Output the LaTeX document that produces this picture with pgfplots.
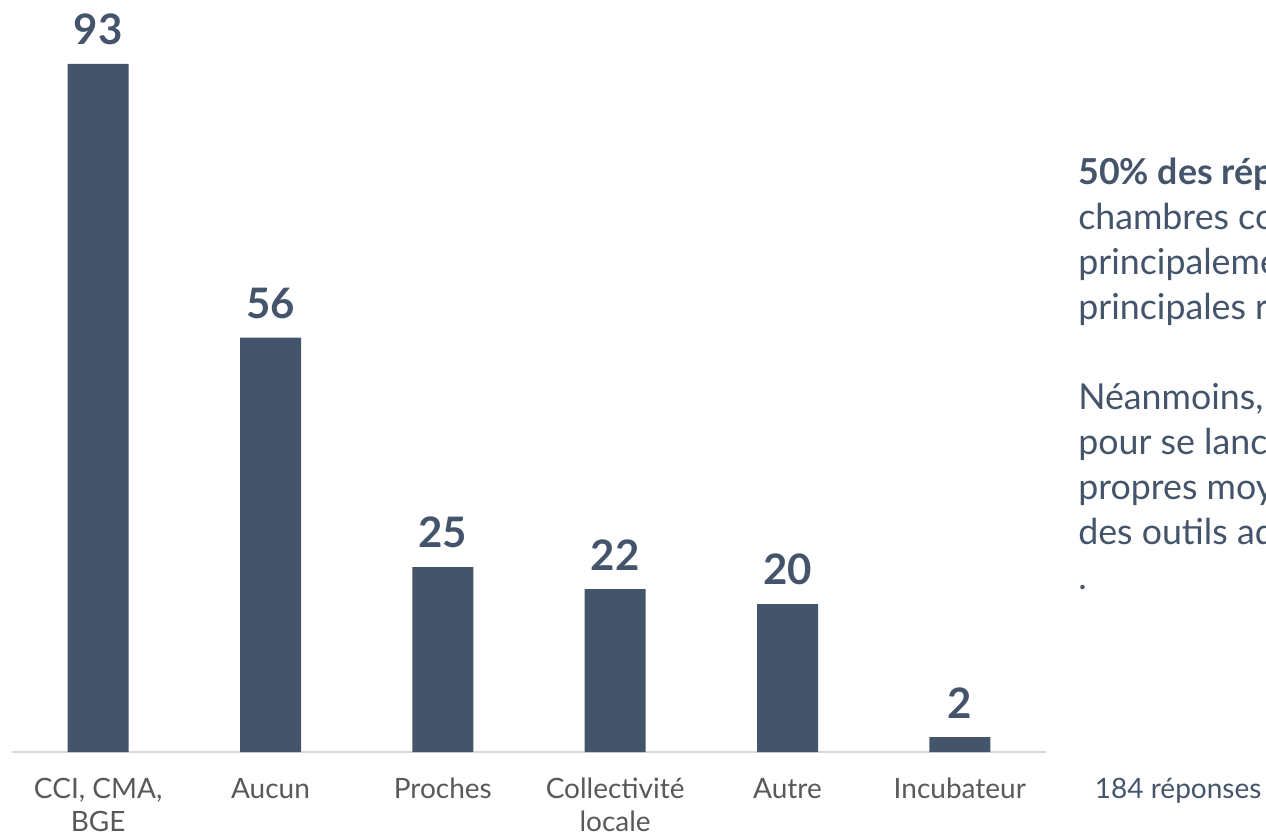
\documentclass[border=0pt]{standalone}
\usepackage{pgfplots}
\pgfplotsset{compat=1.18}
\usepackage{fontspec}
\setmainfont{Lato}
\definecolor{barblue}{HTML}{44546A}
\definecolor{ticktext}{HTML}{595959}
\definecolor{axisgray}{HTML}{D9D9D9}
\begin{document}
\begin{tikzpicture}
\begin{scope}
\clip (-9pt,-62.25pt) rectangle (940.5pt,564pt);
\begin{axis}[
  scale only axis,
  width=775.5pt, height=555pt,
  xmin=-0.5, xmax=5.5, ymin=0, ymax=100,
  axis x line*=bottom, axis y line=none,
  x axis line style={axisgray, line width=1.2pt, -},
  xtick={0,1,2,3,4,5},
  xticklabels={{CCI, CMA,\\BGE},Aucun,Proches,{Collectivité\\locale},Autre,Incubateur},
  major tick length=0pt,
  xticklabel style={align=center, font=\fontsize{21}{24.5}\selectfont, text=ticktext, yshift=-16pt},
  ytick=\empty,
  /pgf/number format/assume math mode=true,
  nodes near coords,
  every node near coord/.append style={font=\fontsize{31.5}{36}\selectfont\bfseries, text=barblue, yshift=10.5pt},
  clip=false,
]
\addplot[ybar, bar width=45.75pt, fill=barblue, draw=none] coordinates {
  (0,93) (1,56) (2,25) (3,22) (4,20) (5,2)
};
\end{axis}
\begin{scope}[every node/.style={anchor=base west, inner sep=0pt, text=barblue, font=\fontsize{26.8}{31}\selectfont}]
\node at (799.5pt,425.25pt) {\textbf{50\% des répondants} se sont tournés vers les};
\node at (799.5pt,391.5pt) {chambres consulaires, qui restent};
\node at (799.5pt,357.75pt) {principalement sollicitées comme};
\node at (799.5pt,324pt) {principales ressources d'accompagnement};
\node at (799.5pt,256.5pt) {Néanmoins, 30\% des répondants};
\node at (799.5pt,222.75pt) {pour se lancer ont compté sur leurs};
\node at (799.5pt,189pt) {propres moyens, faute de connaître};
\node at (799.5pt,155.25pt) {des outils adaptés};
\node at (799.5pt,121.5pt) {.};
\node at (812pt,-34.5pt) {\fontsize{21}{24.5}\selectfont 184 réponses};
\end{scope}
\end{scope}
\pgfresetboundingbox
\path[use as bounding box] (-9pt,-62.25pt) rectangle (940.5pt,564pt);
\end{tikzpicture}
\end{document}
